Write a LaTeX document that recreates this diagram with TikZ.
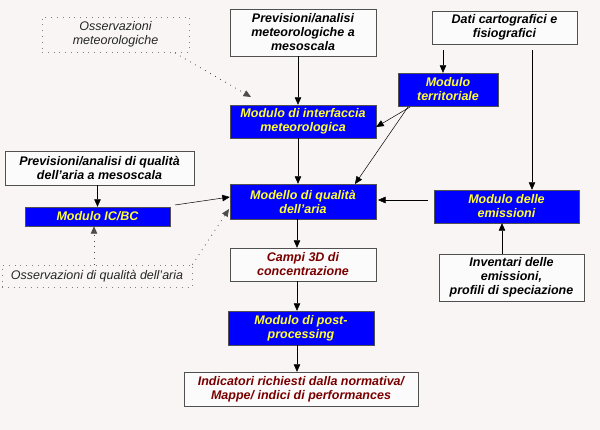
\documentclass[tikz,border=0pt]{standalone}
\usepackage{fontspec}
\setmainfont{Liberation Sans}
\usetikzlibrary{arrows.meta}
\definecolor{bgcol}{HTML}{F8F5F4}
\definecolor{boxline}{HTML}{505050}
\definecolor{modblue}{HTML}{0000FF}
\definecolor{modyellow}{HTML}{FFFF33}
\definecolor{outred}{HTML}{7A0000}
\begin{document}
\begin{tikzpicture}[x=1pt, y=-1pt,
  every node/.style={font=\fontsize{12.5}{14}\selectfont, align=center, inner sep=0pt},
  srcbox/.style={draw=boxline, fill=white!60!bgcol, font=\fontsize{12.5}{14}\selectfont\bfseries\itshape},
  modbox/.style={draw=boxline, fill=modblue, text=modyellow, font=\fontsize{12.5}{14}\selectfont\bfseries\itshape},
  outbox/.style={draw=boxline, fill=white!60!bgcol, text=outred, font=\fontsize{12.5}{14}\selectfont\bfseries\itshape},
  obsbox/.style={draw=gray, line width=0.8pt, dash pattern=on 0.8pt off 5pt, text=black!85, font=\fontsize{12.5}{14}\selectfont\itshape},
  arr/.style={-{Triangle[length=7.5pt,width=6.5pt]}, line width=0.5pt},
  obsarr/.style={arr, draw=black!70, line width=0.8pt, dash pattern=on 0.8pt off 5pt}]
\fill[bgcol] (0,0) rectangle (600,430);
% sorgenti
\node[obsbox, minimum width=147pt, minimum height=35pt] (obsmet) at (115.5,34.5) {Osservazioni\\meteorologiche};
\node[srcbox, minimum width=146pt, minimum height=47pt] (prevmet) at (303,32.5) {Previsioni/analisi\\meteorologiche a\\mesoscala};
\node[srcbox, minimum width=145pt, minimum height=33pt] (dati) at (504.5,27.5) {Dati cartografici e\\fisiografici};
\node[srcbox, minimum width=189pt, minimum height=34pt] (prevaria) at (99.5,168) {Previsioni/analisi di qualità\\dell'aria a mesoscala};
\node[obsbox, minimum width=190pt, minimum height=22pt] (obsaria) at (97,276) {Osservazioni di qualità dell'aria};
\node[srcbox, minimum width=145pt, minimum height=47pt] (invent) at (511.5,277.5) {Inventari delle\\emissioni,\\profili di speciazione};
% moduli
\node[modbox, minimum width=100pt, minimum height=33pt] (territ) at (448,89.5) {Modulo\\territoriale};
\node[modbox, minimum width=146pt, minimum height=33pt] (interf) at (303,121.5) {Modulo di interfaccia\\meteorologica};
\node[modbox, minimum width=145pt, minimum height=19pt] (icbc) at (97.5,216.5) {Modulo IC/BC};
\node[modbox, minimum width=146pt, minimum height=35pt] (modello) at (303,201.5) {Modello di qualità\\dell'aria};
\node[modbox, minimum width=145pt, minimum height=33pt] (emiss) at (506.5,206.5) {Modulo delle\\emissioni};
\node[modbox, minimum width=146pt, minimum height=34pt] (post) at (301,328) {Modulo di post-\\processing};
% uscite
\node[outbox, minimum width=146pt, minimum height=33pt] (campi) at (303,264.5) {Campi 3D di\\concentrazione};
\node[outbox, minimum width=234pt, minimum height=34pt] (indic) at (301,389) {Indicatori richiesti dalla normativa/\\Mappe/ indici di performances};
% collegamenti
\coordinate (obsmetend) at (251,97);
\coordinate (datiA) at (443,50);
\coordinate (datiB) at (532,50);
\coordinate (obsariaend) at (229,209);
\draw[obsarr] (175,53) -- (obsmetend);
\draw[arr] (prevmet.south -| 298,0) -- (interf.north -| 298,0);
\draw[arr] (datiA) -- (territ.north -| datiA);
\draw[arr] (datiB) -- (emiss.north -| datiB);
\draw[arr] (410,107) -- (interf.east |- 0,127);
\draw[arr] (408,107) -- (355,184);
\draw[arr] (interf.south -| 298,0) -- (modello.north -| 298,0);
\draw[arr] (prevaria.south -| icbc.north) -- (icbc.north);
\draw[arr] (175,205) -- (modello.west |- 0,197);
\draw[obsarr] (obsaria.north east) -- (obsariaend);
\draw[obsarr] (obsaria.north -| 94,0) -- (icbc.south -| 94,0);
\draw[arr] (emiss.west |- 0,200) ++(-6,0) -- (378,200);
\draw[arr] (invent.north -| 502,0) -- (emiss.south -| 502,0);
\draw[arr] (modello.south -| 297,0) -- (campi.north -| 297,0);
\draw[arr] (campi.south -| 297,0) -- (post.north -| 297,0);
\draw[arr] (post.south -| 297,0) -- (indic.north -| 297,0);
\end{tikzpicture}
\end{document}
